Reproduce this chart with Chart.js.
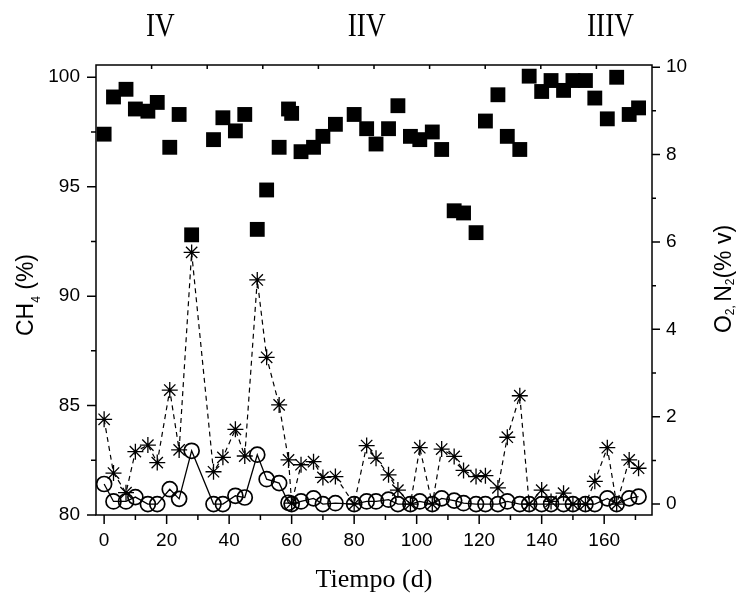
<!DOCTYPE html>
<html>
<head>
<meta charset="utf-8">
<script src="https://cdn.jsdelivr.net/npm/chart.js@4.4.1/dist/chart.umd.min.js"></script>
<style>
  html, body { margin: 0; padding: 0; background: #fff; }
</style>
</head>
<body>
<canvas id="myChart" width="739" height="596"></canvas>
<script>
// Datos
var dias = [0, 3, 7, 10, 14, 17, 21, 24, 28, 35, 38, 42, 45, 49, 52, 56, 59, 60, 63, 67,
  70, 74, 80, 84, 87, 91, 94, 98, 101, 105, 108, 112, 115, 119, 122, 126, 129, 133, 136, 140,
  143, 147, 150, 154, 157, 161, 164, 168, 171];
var ch4 = [97.4, 99.1, 99.45, 98.55, 98.45, 98.85, 96.8, 98.3, 92.8, 97.15,
  98.15, 97.55, 98.3, 93.05, 94.85, 96.8, 98.55, 98.35, 96.6, 96.8,
  97.3, 97.85, 98.3, 97.65, 96.95, 97.65, 98.7, 97.3, 97.15, 97.5,
  96.7, 93.9, 93.8, 92.9, 98.0, 99.2, 97.3, 96.7, 100.05, 99.35,
  99.85, 99.4, 99.85, 99.85, 99.05, 98.1, 100.0, 98.3, 98.6];
var n2 = [1.94, 0.71, 0.26, 1.2, 1.35, 0.95, 2.61, 1.24, 5.76, 0.74,
  1.07, 1.71, 1.1, 5.13, 3.36, 2.27, 1.01, 0.02, 0.9, 0.97,
  0.61, 0.63, 0.0, 1.34, 1.05, 0.67, 0.32, 0.0, 1.29, 0.0,
  1.26, 1.09, 0.77, 0.63, 0.65, 0.37, 1.53, 2.48, 0.0, 0.32,
  0.06, 0.25, 0.0, 0.0, 0.52, 1.29, 0.0, 1.01, 0.82];
var o2 = [0.46, 0.06, 0.06, 0.16, 0.0, 0.0, 0.34, 0.12, 1.22, 0.0,
  0.0, 0.19, 0.15, 1.13, 0.57, 0.48, 0.03, 0.0, 0.06, 0.13,
  0.0, 0.02, 0.0, 0.06, 0.06, 0.1, 0.0, 0.0, 0.06, 0.0,
  0.13, 0.08, 0.02, 0.0, 0.0, 0.0, 0.06, 0.0, 0.0, 0.0,
  0.0, 0.0, 0.0, 0.0, 0.0, 0.13, 0.0, 0.13, 0.17];

// Marcas de los ejes
var ticksX = [0, 20, 40, 60, 80, 100, 120, 140, 160];
var ticksCH4 = [80, 85, 90, 95, 100];
var ticksGas = [0, 2, 4, 6, 8, 10];

// Etiquetas de etapas (arriba)
var etapas = ["IV", "IIV", "IIIV"];
var etapasDia = [18, 84, 162];

function puntos(ys) {
  return dias.map(function (d, i) { return { x: d, y: ys[i] }; });
}

function fijarTicks(valores) {
  return function (scale) {
    scale.ticks = valores.map(function (v) { return { value: v }; });
  };
}

var fuenteTicks = { family: "Liberation Sans", size: 19 };

// Dibuja texto con subindices, centrado en el origen
function textoPartes(ctx, partes, tam, tamSub, bajada) {
  var total = 0;
  partes.forEach(function (p) {
    ctx.font = (p.sub ? tamSub : tam) + 'px "Liberation Sans"';
    p.w = ctx.measureText(p.t).width;
    total += p.w;
  });
  var x = -total / 2;
  partes.forEach(function (p) {
    ctx.font = (p.sub ? tamSub : tam) + 'px "Liberation Sans"';
    ctx.fillText(p.t, x, p.sub ? bajada : 0);
    x += p.w;
  });
}

var marcos = {
  id: "marcos",
  afterDraw: function (chart) {
    var ctx = chart.ctx, a = chart.chartArea;
    var sx = chart.scales.x, sy = chart.scales.y, sy2 = chart.scales.y2;
    ctx.save();
    ctx.strokeStyle = "#000";
    ctx.fillStyle = "#000";
    ctx.lineWidth = 1.5;
    ctx.strokeRect(a.left, a.top, a.right - a.left, a.bottom - a.top);

    ctx.beginPath();
    var v, p, len;
    for (v = 0; v <= 170; v += 10) {
      p = sx.getPixelForValue(v);
      len = v % 20 === 0 ? 9 : 5;
      ctx.moveTo(p, a.bottom); ctx.lineTo(p, a.bottom + len);
    }
    for (v = 80; v <= 100; v += 2.5) {
      p = sy.getPixelForValue(v);
      len = v % 5 === 0 ? 9 : 5;
      ctx.moveTo(a.left, p); ctx.lineTo(a.left - len, p);
    }
    for (v = 0; v <= 10; v += 1) {
      p = sy2.getPixelForValue(v);
      len = v % 2 === 0 ? 8 : 4;
      ctx.moveTo(a.right, p); ctx.lineTo(a.right + len, p);
    }
    for (v = 1; v < 10; v++) {
      p = a.left + (a.right - a.left) * v / 10;
      ctx.moveTo(p, a.top); ctx.lineTo(p, a.top + 4);
    }
    ctx.stroke();

    // Titulo eje izquierdo
    ctx.save();
    ctx.translate(33, 295);
    ctx.rotate(-Math.PI / 2);
    ctx.textBaseline = "alphabetic";
    textoPartes(ctx, [{ t: "CH" }, { t: "4", sub: true }, { t: " (%)" }], 23, 12, 7);
    ctx.restore();

    // Titulo eje derecho
    ctx.save();
    ctx.translate(731, 279);
    ctx.rotate(-Math.PI / 2);
    textoPartes(ctx, [{ t: "O" }, { t: "2, ", sub: true }, { t: "N" }, { t: "2", sub: true }, { t: "(% v)" }], 23, 12, 3);
    ctx.restore();

    // Titulo eje x
    ctx.font = '26px "Liberation Serif"';
    ctx.textAlign = "center";
    ctx.textBaseline = "alphabetic";
    ctx.fillText("Tiempo (d)", (a.left + a.right) / 2, 587);

    // Etapas
    etapas.forEach(function (t, i) {
      ctx.save();
      ctx.translate(sx.getPixelForValue(etapasDia[i]), 36);
      ctx.scale(0.8, 1);
      ctx.font = '34px "Liberation Serif"';
      ctx.textAlign = "center";
      ctx.fillText(t, 0, 0);
      ctx.restore();
    });
    ctx.restore();
  }
};

var canvas = document.getElementById("myChart");
var ctx = canvas.getContext("2d");
var myChart = new Chart(ctx, {
  type: "scatter",
  data: {
    datasets: [
      {
        label: "CH4",
        data: puntos(ch4),
        yAxisID: "y",
        pointStyle: "rect",
        pointRadius: 10.5,
        pointBackgroundColor: "#000",
        pointBorderColor: "#000",
        pointBorderWidth: 0,
        showLine: false,
      },
      {
        label: "N2",
        data: puntos(n2),
        yAxisID: "y2",
        pointStyle: "star",
        pointRadius: 8,
        pointBorderColor: "#000",
        pointBorderWidth: 1.3,
        borderColor: "#000",
        borderWidth: 1.2,
        borderDash: [5, 4],
        showLine: true,
      },
      {
        label: "O2",
        data: puntos(o2),
        yAxisID: "y2",
        pointStyle: "circle",
        pointRadius: 7.5,
        pointBackgroundColor: "rgba(0,0,0,0)",
        pointBorderColor: "#000",
        pointBorderWidth: 1.7,
        borderColor: "#000",
        borderWidth: 1.3,
        showLine: true,
      },
    ],
  },
  options: {
    responsive: false,
    animation: false,
    devicePixelRatio: 1,
    layout: { padding: { top: 65, left: 0, right: 0, bottom: 0 } },
    plugins: { legend: { display: false }, tooltip: { enabled: false } },
    elements: { line: { tension: 0 } },
    scales: {
      x: {
        type: "linear",
        position: "bottom",
        min: -2.6,
        max: 175.3,
        afterBuildTicks: fijarTicks(ticksX),
        afterFit: function (s) { s.height = 81; },
        grid: { display: false, drawTicks: false, tickLength: 0 },
        border: { display: false },
        ticks: { font: fuenteTicks, color: "#000", padding: 14, autoSkip: false, maxRotation: 0 },
      },
      y: {
        type: "linear",
        position: "left",
        min: 80,
        max: 100.56,
        afterBuildTicks: fijarTicks(ticksCH4),
        afterFit: function (s) { s.width = 96; },
        grid: { display: false, drawTicks: false, tickLength: 0 },
        border: { display: false },
        ticks: { font: fuenteTicks, color: "#000", padding: 16 },
      },
      y2: {
        type: "linear",
        position: "right",
        min: -0.25,
        max: 10.05,
        afterBuildTicks: fijarTicks(ticksGas),
        afterFit: function (s) { s.width = 87; },
        grid: { display: false, drawTicks: false, tickLength: 0 },
        border: { display: false },
        ticks: { font: fuenteTicks, color: "#000", padding: 14 },
      },
    },
  },
  plugins: [marcos],
});
</script>
</body>
</html>
